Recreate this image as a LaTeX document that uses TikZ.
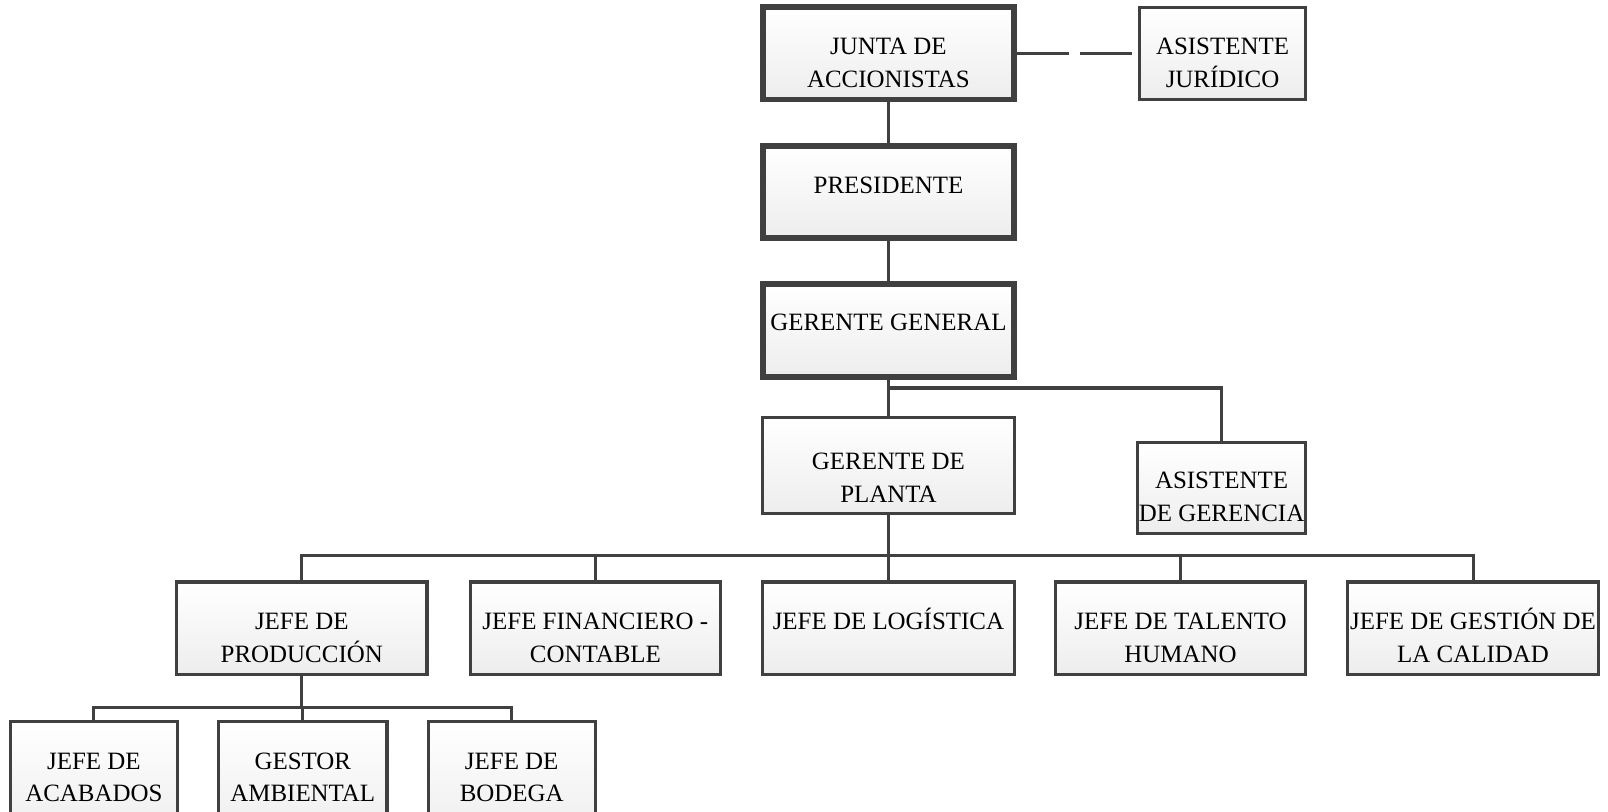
\documentclass[tikz,border=0pt]{standalone}
\usepackage{fontspec}
\setmainfont{Liberation Serif}
\definecolor{edge}{HTML}{404040}
\definecolor{fillbot}{HTML}{EDEDED}
\tikzset{
  box/.style={draw=edge, line width=2.3pt, rectangle, inner sep=0pt, top color=white, bottom color=fillbot},
  thickbox/.style={line width=4.4pt},
  txt/.style={anchor=north, inner sep=0pt, align=center, font=\fontsize{18.7pt}{24.64pt}\selectfont},
  conn/.style={draw=edge, line width=2.3pt},
  dconn/.style={draw=edge, line width=2.7pt, dash pattern=on 39pt off 8pt},
}
\newcommand\mkbox[6][]{%
  \node[box,#1,minimum width={(#5-#3)*0.7699pt},minimum height={(#6-#4)*0.7699pt}] (#2) at ({(#3+#5)/2},{(#4+#6)/2}) {};}
\begin{document}
\begin{tikzpicture}[x=0.7699pt,y=-0.7699pt]
\clip (0,0) rectangle (1566.5,791);
\useasboundingbox (0,0) rectangle (1566.5,791);
% boxes
\mkbox[thickbox]{junta}{743}{7}{988}{97}
\mkbox{jur}{1110}{7}{1272}{97}
\mkbox[thickbox]{pres}{743}{142}{988}{232}
\mkbox[thickbox]{gg}{743}{277}{988}{367}
\mkbox{gp}{743}{407}{988}{500}
\mkbox{ag}{1108}{431}{1272}{520}
\mkbox{prod}{172}{567}{416}{657}
\mkbox{fin}{458}{567}{702}{657}
\mkbox{log}{743}{567}{988}{657}
\mkbox{tal}{1028}{567}{1272}{657}
\mkbox{ges}{1313}{567}{1557}{657}
\mkbox{acab}{10}{703}{173}{820}
\mkbox{amb}{213}{703}{377}{820}
\mkbox{bod}{417}{703}{580}{820}
% texts
\node[txt] (junta-t) at (865.5,29) {\rule{0pt}{18.5pt}JUNTA DE\\ACCIONISTAS};
\node[txt] (jur-t) at (1191,29) {\rule{0pt}{18.5pt}ASISTENTE\\JURÍDICO};
\node[txt] (pres-t) at (865.5,164) {\rule{0pt}{18.5pt}PRESIDENTE};
\node[txt] (gg-t) at (865.5,298) {\rule{0pt}{18.5pt}GERENTE GENERAL};
\node[txt] (gp-t) at (865.5,433) {\rule{0pt}{18.5pt}GERENTE DE\\PLANTA};
\node[txt] (ag-t) at (1190,452) {\rule{0pt}{18.5pt}ASISTENTE\\DE GERENCIA};
\node[txt] (prod-t) at (294,589) {\rule{0pt}{18.5pt}JEFE DE\\PRODUCCIÓN};
\node[txt] (fin-t) at (580,589) {\rule{0pt}{18.5pt}JEFE FINANCIERO -\\CONTABLE};
\node[txt] (log-t) at (865.5,589) {\rule{0pt}{18.5pt}JEFE DE LOGÍSTICA};
\node[txt] (tal-t) at (1150,589) {\rule{0pt}{18.5pt}JEFE DE TALENTO\\HUMANO};
\node[txt] (ges-t) at (1435,589) {\rule{0pt}{18.5pt}JEFE DE GESTIÓN DE\\LA CALIDAD};
\node[txt] (acab-t) at (91.5,725) {\rule{0pt}{18.5pt}JEFE DE\\ACABADOS};
\node[txt] (amb-t) at (295,725) {\rule{0pt}{18.5pt}GESTOR\\AMBIENTAL};
\node[txt] (bod-t) at (498.5,725) {\rule{0pt}{18.5pt}JEFE DE\\BODEGA};
% connectors
\draw[dconn] (junta.east) -- (jur.west);
\draw[conn] (junta.south) -- (pres.north);
\draw[conn] (pres.south) -- (gg.north);
\draw[conn] (gg.south) -- (gp.north);
\coordinate (b1) at (865.5,378);
\draw[conn] (b1) -| (ag.north);
\coordinate (b2) at (865.5,541);
\draw[conn] (gp.south) -- (b2);
\draw[conn] (prod.north) |- (b2) -| (ges.north);
\draw[conn] (fin.north) -- (fin.north |- b2);
\draw[conn] (log.north) -- (b2);
\draw[conn] (tal.north) -- (tal.north |- b2);
\coordinate (b3) at (294,689);
\draw[conn] (prod.south) -- (b3);
\draw[conn] (acab.north) |- (b3) -| (bod.north);
\draw[conn] (amb.north) -- (amb.north |- b3);
\end{tikzpicture}
\end{document}
